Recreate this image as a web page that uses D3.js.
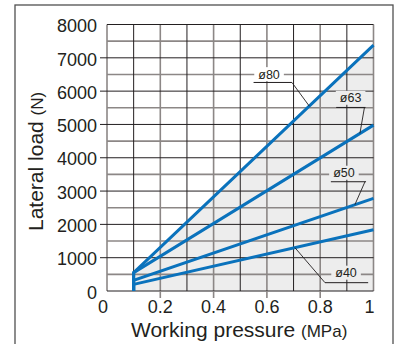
<!DOCTYPE html>
<html>
<head>
<meta charset="utf-8">
<script src="https://cdn.jsdelivr.net/npm/d3@7/dist/d3.min.js"></script>
<style>
  html, body { margin: 0; padding: 0; background: #fff; }
  svg { display: block; font-family: "Liberation Sans", Arial, sans-serif; }
</style>
</head>
<body>
<svg id="chart" width="400" height="344"></svg>
<script>
// Axis ticks
const pressureTicks = [0, 0.2, 0.4, 0.6, 0.8, 1];
const loadTicks = [0, 1000, 2000, 3000, 4000, 5000, 6000, 7000, 8000];

// Allowable lateral load per bore size (N) vs working pressure (MPa)
const bores = ["ø80", "ø63", "ø50", "ø40"];
const minPressure = 0.1;
const maxPressure = 1;
const loadAtMinPressure = [550, 550, 320, 200];
const loadAtMaxPressure = [7380, 4980, 2780, 1840];

// Callout placement for each bore label (pressure, load units)
const callouts = [
  { text: [0.608, 6510], rule: [0.55, 0.694, 6260], from: 0.694, to: 0.759 },
  { text: [0.914, 5800], rule: [0.86, 0.97, 5510],  from: 0.966, to: 0.949 },
  { text: [0.889, 3550], rule: [0.84, 0.972, 3280], from: 0.968, to: 0.93 },
  { text: [0.897, 550],  rule: [0.818, 0.98, 250],  from: 0.818, to: 0.705 }
];

const plot = { left: 107, top: 24.5, width: 266.5, height: 266.5 };
const blue = "#0a72bc";
const shade = "#ededed";
const darkGrid = "#231f20";
const lightGrid = "#8c8786";

const svg = d3.select("#chart");

// Outer frame
svg.append("rect")
  .attr("x", 15).attr("y", 5).attr("width", 378).attr("height", 400)
  .attr("fill", "#fff").attr("stroke", "#505050").attr("stroke-width", 1.3);

const x = d3.scaleLinear().domain([0, 1]).range([plot.left, plot.left + plot.width]);
const y = d3.scaleLinear().domain([0, 8000]).range([plot.top + plot.height, plot.top]);

const series = bores.map((name, i) => ({
  name,
  points: [[minPressure, 0], [minPressure, loadAtMinPressure[i]], [maxPressure, loadAtMaxPressure[i]]]
}));

function loadAt(s, p) {
  const a = s.points[1], b = s.points[2];
  return a[1] + (b[1] - a[1]) * (p - a[0]) / (b[0] - a[0]);
}

const g = svg.append("g");

// Shaded region under the largest bore's curve
const largest = series[0];
g.append("path")
  .datum(largest.points.slice(1))
  .attr("fill", shade)
  .attr("d", d3.area().x(d => x(d[0])).y0(y(0)).y1(d => y(d[1])));

// Grid: 0.1 MPa / 500 N steps, alternating weights
const pGrid = d3.range(0, 11).map(k => k / 10);
const lGrid = d3.range(0, 17).map(k => k * 500);

g.append("g").selectAll("line").data(lGrid.filter(v => v % 1000 !== 0)).join("line")
  .attr("x1", x(0)).attr("x2", x(1)).attr("y1", d => y(d)).attr("y2", d => y(d))
  .attr("stroke", lightGrid).attr("stroke-width", 1.6);
g.append("g").selectAll("line").data(pGrid.filter((v, k) => k % 2 === 0)).join("line")
  .attr("x1", d => x(d)).attr("x2", d => x(d)).attr("y1", y(0)).attr("y2", y(8000))
  .attr("stroke", lightGrid).attr("stroke-width", 1.6);
g.append("g").selectAll("line").data(pGrid.filter((v, k) => k % 2 === 1)).join("line")
  .attr("x1", d => x(d)).attr("x2", d => x(d)).attr("y1", y(0)).attr("y2", y(8000))
  .attr("stroke", darkGrid).attr("stroke-width", 1);
g.append("g").selectAll("line").data(lGrid.filter(v => v % 1000 === 0)).join("line")
  .attr("x1", x(0)).attr("x2", x(1)).attr("y1", d => y(d)).attr("y2", d => y(d))
  .attr("stroke", darkGrid).attr("stroke-width", 1);

// Tick marks
g.append("g").selectAll("line").data(loadTicks.slice(1, -1)).join("line")
  .attr("x1", x(0) - 7).attr("x2", x(0)).attr("y1", d => y(d)).attr("y2", d => y(d))
  .attr("stroke", darkGrid).attr("stroke-width", 1);
g.append("g").selectAll("line").data(pressureTicks.slice(1, -1)).join("line")
  .attr("x1", d => x(d)).attr("x2", d => x(d)).attr("y1", y(0)).attr("y2", y(0) + 7)
  .attr("stroke", lightGrid).attr("stroke-width", 1.6);

// Tick labels
g.append("g").selectAll("text").data(loadTicks).join("text")
  .attr("x", x(0) - 10).attr("y", d => y(d)).attr("dy", "0.43em")
  .attr("text-anchor", "end").attr("font-size", 18).attr("fill", "#231f20")
  .text(d => d);
g.append("g").selectAll("text").data(pressureTicks).join("text")
  .attr("x", d => x(d)).attr("y", 313)
  .attr("dx", (d, i) => (i === 0 || i === pressureTicks.length - 1) ? -4 : 0)
  .attr("text-anchor", "middle").attr("font-size", 18).attr("fill", "#231f20")
  .text(d => d === 0 || d === 1 ? d : d.toFixed(1));

// Axis titles
const xt = svg.append("text").attr("x", 131).attr("y", 337)
  .attr("font-size", 21).attr("fill", "#231f20");
xt.append("tspan").text("Working pressure ");
xt.append("tspan").attr("font-size", 17).text("(MPa)");

const yt = svg.append("text")
  .attr("transform", "translate(43,231) rotate(-90)")
  .attr("font-size", 21).attr("fill", "#231f20");
yt.append("tspan").text("Lateral load ");
yt.append("tspan").attr("font-size", 17).text("(N)");

// Callout label backgrounds (hide the grid behind the text)
const labelG = g.append("g");
series.forEach((s, i) => {
  const c = callouts[i];
  const cx = x(c.text[0]), cy = y(c.text[1]);
  const inShade = c.text[1] < loadAt(largest, c.text[0]);
  const bg = labelG.append("rect");
  const t = labelG.append("text")
    .attr("x", cx).attr("y", cy).attr("dy", "0.36em")
    .attr("text-anchor", "middle").attr("font-size", 12.5).attr("fill", "#231f20")
    .text(s.name);
  const bb = t.node().getBBox();
  bg.attr("x", bb.x - 4).attr("y", cy - 7).attr("width", bb.width + 8).attr("height", 14)
    .attr("fill", inShade ? shade : "#fff");
});

// Curves
const line = d3.line().x(d => x(d[0])).y(d => y(d[1]));
g.append("g").selectAll("path").data(series).join("path")
  .attr("fill", "none").attr("stroke", blue).attr("stroke-width", 3)
  .attr("stroke-linejoin", "miter")
  .attr("d", d => line(d.points));

// Callout rules and leaders
series.forEach((s, i) => {
  const c = callouts[i];
  g.append("line")
    .attr("x1", x(c.rule[0])).attr("x2", x(c.rule[1]))
    .attr("y1", y(c.rule[2])).attr("y2", y(c.rule[2]))
    .attr("stroke", darkGrid).attr("stroke-width", 1);
  g.append("line")
    .attr("x1", x(c.from)).attr("y1", y(c.rule[2]))
    .attr("x2", x(c.to)).attr("y2", y(loadAt(s, c.to)))
    .attr("stroke", darkGrid).attr("stroke-width", 0.9);
});
</script>
</body>
</html>
